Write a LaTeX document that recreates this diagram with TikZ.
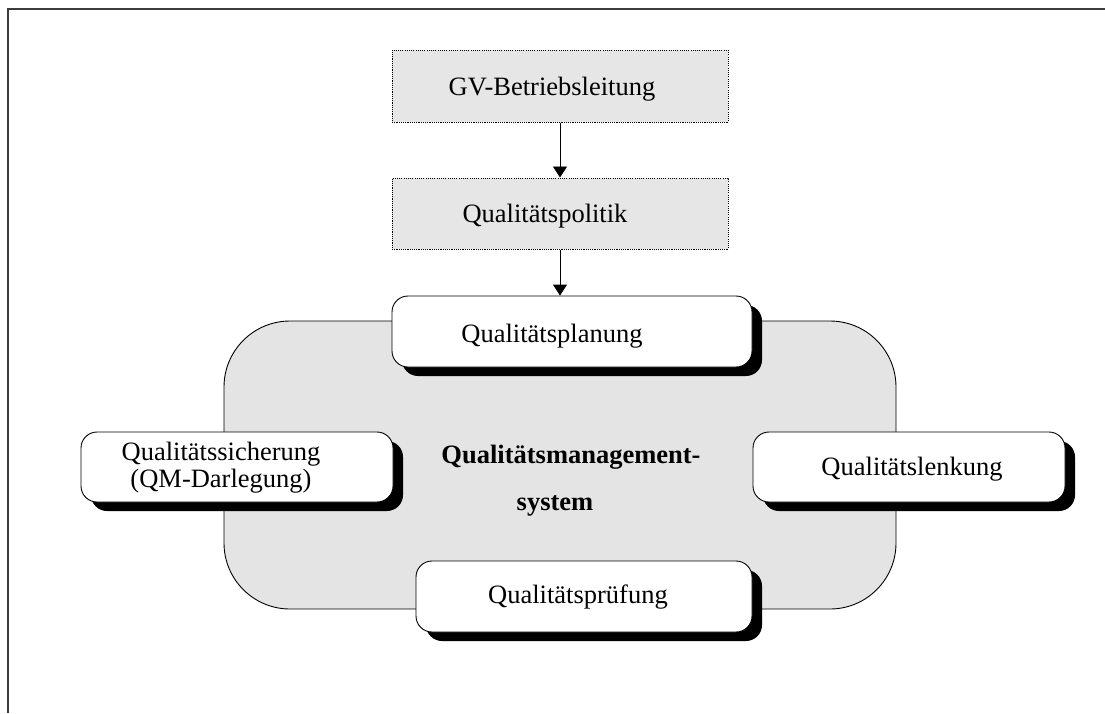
\documentclass[tikz,border=0pt]{standalone}
\usepackage{fontspec}
\setmainfont{Liberation Serif}
\usetikzlibrary{arrows.meta,shadows}

\definecolor{boxgray}{HTML}{E6E6E6}
\definecolor{panelgray}{HTML}{E4E4E4}
\definecolor{framegray}{HTML}{3C3C3C}

\begin{document}
\begin{tikzpicture}[x=1pt,y=-1pt,
  every node/.style={font=\fontsize{26.5}{27}\selectfont},
  frameline/.style={draw=framegray, line width=2pt},
  dotbox/.style={draw=black, fill=boxgray, dash pattern=on 1.1pt off 1.1pt,
    line width=1pt, inner sep=0pt, rectangle},
  panel/.style={draw=black, fill=panelgray, line width=0.9pt, rounded corners=66pt,
    inner sep=0pt, rectangle},
  roundbox/.style={draw=black, fill=white, line width=0.9pt, rounded corners=16pt,
    inner sep=0pt, rectangle,
    drop shadow={shadow xshift=10pt, shadow yshift=-9pt, fill=black, opacity=1}},
  label text/.style={inner sep=0pt, anchor=base},
  arrow/.style={draw=black, line width=0.9pt, -{Triangle[width=14pt,length=11pt]}}
]
\useasboundingbox (0,0) rectangle (1105,713);

% outer frame: top and left edges only
\draw[frameline] (1105,8.5) -- (7.5,8.5) -- (7.5,713);

% management system panel
\node[panel, minimum width=672pt, minimum height=288pt] (qms) at (560,465) {};
\node[label text, font=\fontsize{26.5}{27}\selectfont\bfseries] (qmsa) at (571,463) {Qualitätsmanagement-};
\node[label text, font=\fontsize{26.5}{27}\selectfont\bfseries] (qmsb) at (555,510) {system};

% top-level boxes
\node[dotbox, minimum width=336pt, minimum height=72pt] (gv) at (560,86) {};
\node[label text] (gvt) at (552,95) {GV-Betriebsleitung};
\node[dotbox, minimum width=336pt, minimum height=71pt] (pol) at (560,213.5) {};
\node[label text] (polt) at (545,222) {Qualitätspolitik};

% the four elements around the panel
\node[roundbox, minimum width=360pt, minimum height=71pt] (plan) at (572,331.5) {};
\node[label text] (plant) at (552,342) {Qualitätsplanung};

\node[roundbox, minimum width=312pt, minimum height=70pt] (sich) at (237,467) {};
\node[label text] (sicht1) at (221,460) {Qualitätssicherung};
\node[label text] (sicht2) at (221,487) {(QM-Darlegung)};

\node[roundbox, minimum width=312pt, minimum height=70pt] (lenk) at (909,467) {};
\node[label text] (lenkt) at (912,475) {Qualitätslenkung};

\node[roundbox, minimum width=336pt, minimum height=71pt] (pruef) at (584,596.5) {};
\node[label text] (prueft) at (578,603) {Qualitätsprüfung};

% connectors
\coordinate (ax) at (560,0);
\draw[arrow] (gv.south -| ax) -- (pol.north -| ax);
\draw[arrow] (pol.south -| ax) -- (plan.north -| ax);
\end{tikzpicture}
\end{document}
